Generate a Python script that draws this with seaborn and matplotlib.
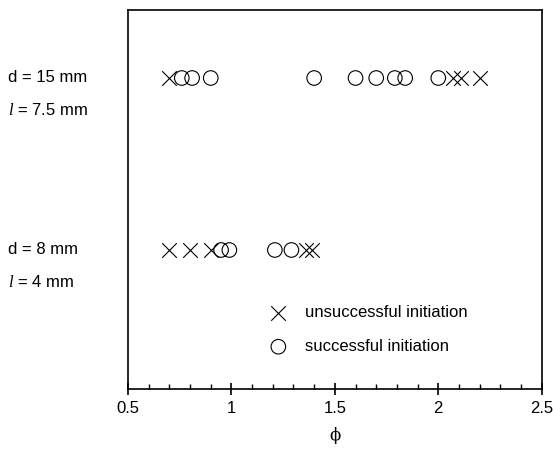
import numpy as np
import pandas as pd
import matplotlib
matplotlib.use('Agg')
import matplotlib.pyplot as plt
import matplotlib.transforms as mtransforms
from matplotlib.ticker import MultipleLocator
import seaborn as sns

# data
phi_top_fail = [0.70, 2.07, 2.11, 2.20]
phi_top_ok = [0.76, 0.81, 0.90, 1.40, 1.60, 1.70, 1.79, 1.84, 2.00]
phi_bot_fail = [0.70, 0.80, 0.90, 1.36, 1.39]
phi_bot_ok = [0.95, 0.99, 1.21, 1.29]
row_labels = [("d = 15 mm", r"$\mathit{l}$ = 7.5 mm"), ("d = 8 mm", r"$\mathit{l}$ = 4 mm")]
row_y = [2, 1]
outcome_names = ["unsuccessful initiation", "successful initiation"]

rows = []
for y, fail, ok in [(row_y[0], phi_top_fail, phi_top_ok), (row_y[1], phi_bot_fail, phi_bot_ok)]:
    rows += [(p, y, outcome_names[0]) for p in fail]
    rows += [(p, y, outcome_names[1]) for p in ok]
df = pd.DataFrame(rows, columns=['phi', 'row', 'outcome'])

sns.set_style('white')
plt.rcParams['font.family'] = ['Liberation Sans', 'DejaVu Sans']
plt.rcParams['mathtext.fontset'] = 'custom'
plt.rcParams['mathtext.it'] = 'Liberation Serif:italic'
plt.rcParams['mathtext.rm'] = 'Liberation Sans'
plt.rcParams['text.color'] = 'black'
plt.rcParams['axes.labelcolor'] = 'black'
plt.rcParams['xtick.color'] = 'black'

fig = plt.figure(figsize=(5.53, 4.57), dpi=100)
ax = fig.add_axes([128 / 553, 1 - 389 / 457, 413.7 / 553, 379 / 457])

# crosses
sns.scatterplot(data=df[df.outcome == outcome_names[0]], x='phi', y='row', ax=ax,
                marker='x', s=110, color='black', linewidth=0.8, label=outcome_names[0])
# hollow circles
sns.scatterplot(data=df[df.outcome == outcome_names[1]], x='phi', y='row', ax=ax,
                marker='o', s=110, facecolor='none', edgecolor='black', linewidth=0.8,
                label=outcome_names[1])

ax.set_xlim(0.5, 2.5)
ax.set_ylim(1 - 139 / 172, 2 + 68 / 172)
ax.set_yticks([])
ax.set_ylabel('')
ax.xaxis.set_minor_locator(MultipleLocator(0.1))
ax.set_xticks([0.5, 1, 1.5, 2, 2.5])
ax.set_xticklabels(['0.5', '1', '1.5', '2', '2.5'])
ax.tick_params(axis='x', which='major', direction='inout', length=8.6, width=1.2,
               labelsize=12, pad=4, bottom=True)
ax.tick_params(axis='x', which='minor', direction='in', length=3.6, width=1.0, bottom=True)
for sp in ax.spines.values():
    sp.set_visible(True)
    sp.set_color('black')
    sp.set_linewidth(1.2)

ax.set_xlabel('\u03d5', family=['DejaVu Serif'], fontsize=12, labelpad=8)

# row labels on the left
trans = mtransforms.blended_transform_factory(fig.transFigure, ax.transData)
for (lab1, lab2), y in zip(row_labels, row_y):
    fig.text(8 / 553, y, lab1, transform=trans, fontsize=12, va='center', ha='left')
    fig.text(8 / 553, y - 32 / 172, lab2, transform=trans, fontsize=12, va='center', ha='left')

ax.legend(loc='center left', bbox_to_anchor=(0.307, 0.157), frameon=False, fontsize=12,
          handlelength=1.0, handletextpad=1.1, labelspacing=1.15, borderpad=0.4,
          scatterpoints=1)

fig.savefig('out.png', dpi=100)
